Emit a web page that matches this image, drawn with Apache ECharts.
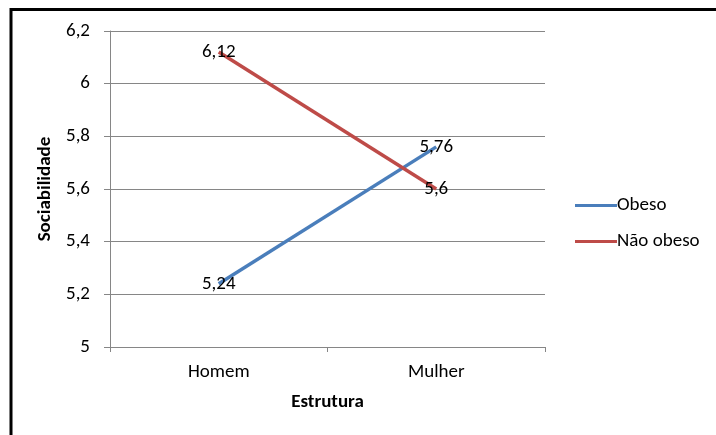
<!DOCTYPE html>
<html><head><meta charset="utf-8">
<script src="https://cdn.jsdelivr.net/npm/echarts@6/dist/echarts.min.js"></script>
<style>html,body{margin:0;padding:0;background:#fff}#c{width:716px;height:435px}</style>
</head><body><div id="c"></div>
<script>
const categories = ['Homem', 'Mulher'];
const obeso = [5.24, 5.76];
const naoObeso = [6.12, 5.6];
const seriesNames = ['Obeso', 'Não obeso'];
const yTicks = [5, 5.2, 5.4, 5.6, 5.8, 6, 6.2];

const fmt = v => String(+(+v).toFixed(2)).replace('.', ',');
const FONT = 'Carlito, Lato, "Open Sans", sans-serif';
const FS = 19;
const chart = echarts.init(document.getElementById('c'));
const lbl = {show: true, position: 'inside', color: '#000', fontSize: FS, fontFamily: FONT,
  formatter: p => fmt(p.value)};
chart.setOption({
  animation: false,
  graphic: [{type: 'rect', shape: {x: 11, y: 9.5, width: 800, height: 500},
    style: {fill: 'none', stroke: '#000', lineWidth: 3}}],
  grid: {left: 110, right: 171, top: 31, bottom: 88},
  legend: {orient: 'vertical', left: 570, top: 191, itemGap: 17, itemWidth: 42, itemHeight: 10,
    icon: 'path://M0,3.5L42,3.5L42,6.5L0,6.5Z',
    textStyle: {fontSize: FS, fontFamily: FONT, color: '#000', padding: [0, 0, 0, -5]},
    data: seriesNames},
  xAxis: {type: 'category', data: categories, boundaryGap: true,
    name: 'Estrutura', nameLocation: 'middle', nameGap: 46,
    nameTextStyle: {fontSize: FS, fontWeight: 'bold', fontFamily: FONT, color: '#000'},
    axisLine: {lineStyle: {color: '#868686'}},
    axisTick: {show: true, length: 5, lineStyle: {color: '#868686'}},
    axisLabel: {fontSize: FS, fontFamily: FONT, color: '#000', margin: 16}},
  yAxis: {type: 'value', min: 5, max: 6.2, interval: 0.2,
    name: 'Sociabilidade', nameLocation: 'middle', nameGap: 49, nameRotate: 90,
    nameTextStyle: {fontSize: FS, fontWeight: 'bold', fontFamily: FONT, color: '#000'},
    axisLine: {show: true, lineStyle: {color: '#868686'}},
    axisTick: {show: true, length: 6, lineStyle: {color: '#868686'}},
    splitLine: {lineStyle: {color: '#868686'}},
    axisLabel: {fontSize: FS, fontFamily: FONT, color: '#000', margin: 20, formatter: v => fmt(v)}},
  series: [
    {name: seriesNames[0], type: 'line', data: obeso, symbol: 'circle', symbolSize: 0.01, showSymbol: true,
      color: '#4a7ebb', lineStyle: {width: 3.5, color: '#4a7ebb'}, label: lbl},
    {name: seriesNames[1], type: 'line', data: naoObeso, symbol: 'circle', symbolSize: 0.01, showSymbol: true,
      color: '#be4b48', lineStyle: {width: 3.5, color: '#be4b48'}, label: lbl}
  ]
});
</script></body></html>
